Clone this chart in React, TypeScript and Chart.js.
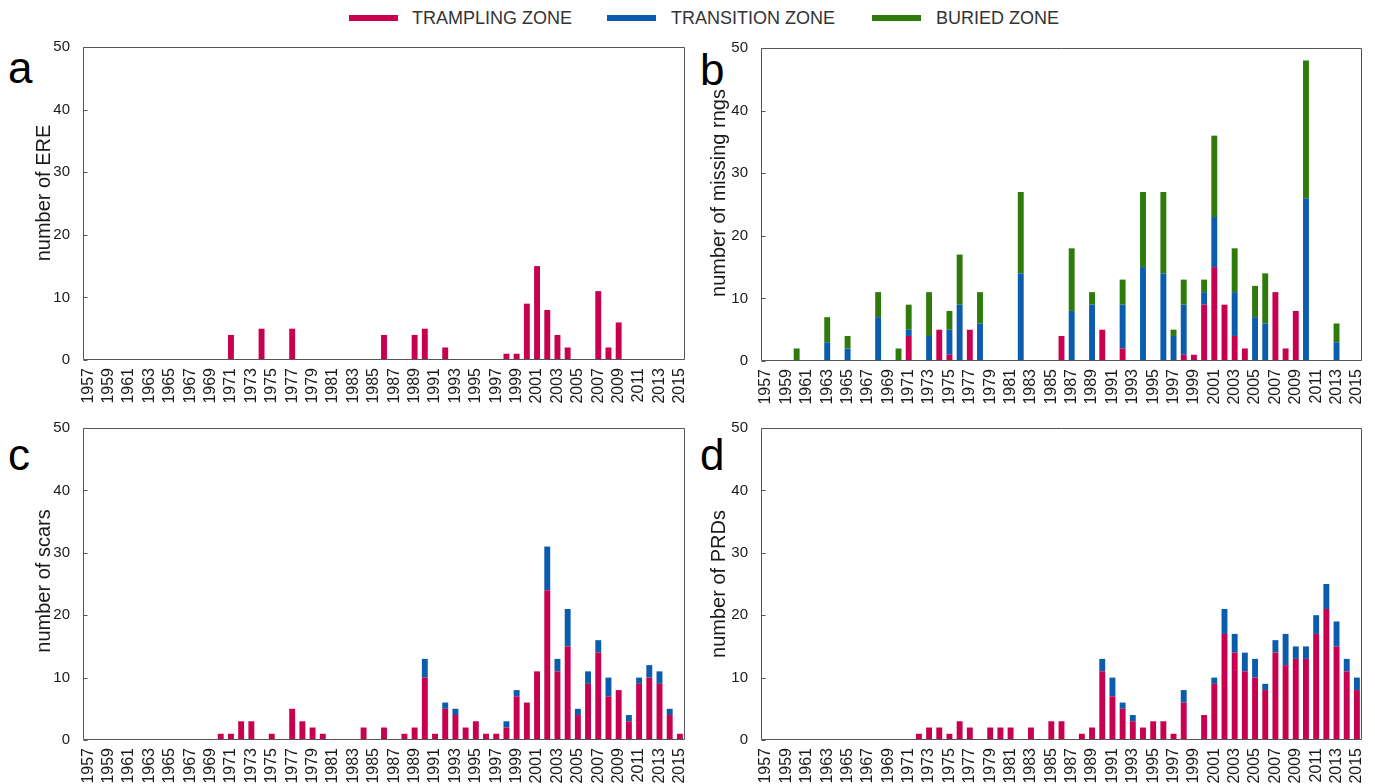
import React, { useEffect, useRef } from "react";
import { Chart, registerables } from "chart.js";

Chart.register(...registerables);

const FONT = "'Liberation Sans', Arial, Helvetica, sans-serif";
const RED = "#C8004F";
const BLUE = "#0B5CAD";
const GREEN = "#2E7A0A";

const YEARS = [
  "1957", "1958", "1959", "1960", "1961", "1962", "1963", "1964", "1965", "1966",
  "1967", "1968", "1969", "1970", "1971", "1972", "1973", "1974", "1975", "1976",
  "1977", "1978", "1979", "1980", "1981", "1982", "1983", "1984", "1985", "1986",
  "1987", "1988", "1989", "1990", "1991", "1992", "1993", "1994", "1995", "1996",
  "1997", "1998", "1999", "2000", "2001", "2002", "2003", "2004", "2005", "2006",
  "2007", "2008", "2009", "2010", "2011", "2012", "2013", "2014", "2015",
];

const Y_TICKS = [0, 10, 20, 30, 40, 50];

// Panel a: number of ERE
const ereTrampling = [
  0, 0, 0, 0, 0, 0, 0, 0, 0, 0,
  0, 0, 0, 0, 4, 0, 0, 5, 0, 0,
  5, 0, 0, 0, 0, 0, 0, 0, 0, 4,
  0, 0, 4, 5, 0, 2, 0, 0, 0, 0,
  0, 1, 1, 9, 15, 8, 4, 2, 0, 0,
  11, 2, 6, 0, 0, 0, 0, 0, 0,
];

// Panel b: number of missing rings
const ringsTrampling = [
  0, 0, 0, 0, 0, 0, 0, 0, 0, 0,
  0, 0, 0, 0, 4, 0, 0, 5, 1, 0,
  5, 0, 0, 0, 0, 0, 0, 0, 0, 4,
  0, 0, 0, 5, 0, 2, 0, 0, 0, 0,
  0, 1, 1, 9, 15, 9, 4, 2, 0, 0,
  11, 2, 8, 0, 0, 0, 0, 0, 0,
];
const ringsTransition = [
  0, 0, 0, 0, 0, 0, 3, 0, 2, 0,
  0, 7, 0, 0, 1, 0, 4, 0, 4, 9,
  0, 6, 0, 0, 0, 14, 0, 0, 0, 0,
  8, 0, 9, 0, 0, 7, 0, 15, 0, 14,
  4, 8, 0, 2, 8, 0, 7, 0, 7, 6,
  0, 0, 0, 26, 0, 0, 3, 0, 0,
];
const ringsBuried = [
  0, 0, 0, 2, 0, 0, 4, 0, 2, 0,
  0, 4, 0, 2, 4, 0, 7, 0, 3, 8,
  0, 5, 0, 0, 0, 13, 0, 0, 0, 0,
  10, 0, 2, 0, 0, 4, 0, 12, 0, 13,
  1, 4, 0, 2, 13, 0, 7, 0, 5, 8,
  0, 0, 0, 22, 0, 0, 3, 0, 0,
];

// Panel c: number of scars
const scarsTrampling = [
  0, 0, 0, 0, 0, 0, 0, 0, 0, 0,
  0, 0, 0, 1, 1, 3, 3, 0, 1, 0,
  5, 3, 2, 1, 0, 0, 0, 2, 0, 2,
  0, 1, 2, 10, 1, 5, 4, 2, 3, 1,
  1, 2, 7, 6, 11, 24, 11, 15, 4, 9,
  14, 7, 8, 3, 9, 10, 9, 4, 1,
];
const scarsTransition = [
  0, 0, 0, 0, 0, 0, 0, 0, 0, 0,
  0, 0, 0, 0, 0, 0, 0, 0, 0, 0,
  0, 0, 0, 0, 0, 0, 0, 0, 0, 0,
  0, 0, 0, 3, 0, 1, 1, 0, 0, 0,
  0, 1, 1, 0, 0, 7, 2, 6, 1, 2,
  2, 3, 0, 1, 1, 2, 2, 1, 0,
];

// Panel d: number of PRDs
const prdTrampling = [
  0, 0, 0, 0, 0, 0, 0, 0, 0, 0,
  0, 0, 0, 0, 0, 1, 2, 2, 1, 3,
  2, 0, 2, 2, 2, 0, 2, 0, 3, 3,
  0, 1, 2, 11, 7, 5, 3, 2, 3, 3,
  1, 6, 0, 4, 9, 17, 14, 11, 10, 8,
  14, 12, 13, 13, 17, 21, 15, 11, 8,
];
const prdTransition = [
  0, 0, 0, 0, 0, 0, 0, 0, 0, 0,
  0, 0, 0, 0, 0, 0, 0, 0, 0, 0,
  0, 0, 0, 0, 0, 0, 0, 0, 0, 0,
  0, 0, 0, 2, 3, 1, 1, 0, 0, 0,
  0, 2, 0, 0, 1, 4, 3, 3, 3, 1,
  2, 5, 2, 2, 3, 4, 4, 2, 2,
];

const framePlugin = {
  id: "frame",
  afterDraw(chart: any) {
    const { ctx, chartArea } = chart;
    const { left, top, right, bottom } = chartArea;
    ctx.save();
    ctx.strokeStyle = "#555";
    ctx.lineWidth = 1;
    ctx.beginPath();
    const l = Math.round(left) + 0.5;
    const r = Math.round(right) - 0.5;
    const t = Math.round(top) + 0.5;
    const b = Math.round(bottom) - 0.5;
    ctx.rect(l, t, r - l, b - t);
    const ys = chart.scales.y;
    for (const v of Y_TICKS) {
      const py = Math.round(ys.getPixelForValue(v)) + 0.5;
      ctx.moveTo(l, py);
      ctx.lineTo(l + 4, py);
    }
    ctx.stroke();
    ctx.restore();
  },
};

type DS = { label: string; data: number[]; color: string };

type PanelProps = {
  left: number;
  top: number;
  width: number;
  height: number;
  datasets: DS[];
  yAxisWidth: number;
  padTop: number;
  padRight: number;
  xAxisHeight: number;
};

function Panel(p: PanelProps) {
  const ref = useRef<HTMLCanvasElement | null>(null);
  useEffect(() => {
    if (!ref.current) return;
    const chart = new Chart(ref.current, {
      type: "bar",
      data: {
        labels: YEARS,
        datasets: p.datasets.map((d) => ({
          label: d.label,
          data: d.data,
          backgroundColor: d.color,
          borderWidth: 0,
          barPercentage: 0.58,
          categoryPercentage: 1,
        })),
      },
      options: {
        animation: false,
        responsive: false,
        maintainAspectRatio: false,
        layout: { padding: { top: p.padTop, right: p.padRight, left: 0, bottom: 0 } },
        plugins: { legend: { display: false }, tooltip: { enabled: false } },
        scales: {
          x: {
            stacked: true,
            grid: { display: false, drawTicks: false },
            border: { display: false },
            ticks: {
              autoSkip: false,
              maxRotation: 90,
              minRotation: 90,
              padding: 8,
              color: "#1a1a1a",
              font: { size: 16, family: FONT },
              callback: (_v: any, i: number) => (i % 2 === 0 ? YEARS[i] : ""),
            },
            afterFit: (s: any) => {
              s.height = p.xAxisHeight;
              s.paddingLeft = 0;
              s.paddingRight = 0;
            },
          },
          y: {
            stacked: true,
            min: 0,
            max: 50,
            grid: { display: false, drawTicks: false },
            border: { display: false },
            ticks: { stepSize: 10, padding: 13, color: "#1a1a1a", font: { size: 15, family: FONT } },
            afterFit: (s: any) => {
              s.width = p.yAxisWidth;
              s.paddingTop = 0;
              s.paddingBottom = 0;
            },
          },
        },
      } as any,
      plugins: [framePlugin],
    });
    return () => chart.destroy();
  }, []);
  return (
    <canvas
      ref={ref}
      width={p.width}
      height={p.height}
      style={{ position: "absolute", left: p.left, top: p.top, width: p.width, height: p.height }}
    />
  );
}

const LEGEND = [
  { label: "TRAMPLING ZONE", color: RED, mx: 349, tx: 412 },
  { label: "TRANSITION ZONE", color: BLUE, mx: 607, tx: 671 },
  { label: "BURIED ZONE", color: GREEN, mx: 872, tx: 936 },
];

const LETTERS = [
  { t: "a", x: 8, y: 46 },
  { t: "b", x: 700, y: 48 },
  { t: "c", x: 8, y: 433 },
  { t: "d", x: 700, y: 433 },
];

const Y_TITLES = [
  { t: "number of ERE", cx: 43, cy: 193 },
  { t: "number of missing rngs", cx: 718, cy: 193 },
  { t: "number of scars", cx: 43, cy: 581 },
  { t: "number of PRDs", cx: 718, cy: 584 },
];

export default function App() {
  return (
    <div
      style={{
        position: "absolute",
        left: 0,
        top: 0,
        width: 1375,
        height: 784,
        background: "#fff",
        overflow: "hidden",
        fontFamily: FONT,
      }}
    >
      {LEGEND.map((l) => (
        <React.Fragment key={l.label}>
          <div
            style={{ position: "absolute", left: l.mx, top: 15, width: 49, height: 6, background: l.color }}
          />
          <span
            style={{
              position: "absolute",
              left: l.tx,
              top: 9,
              fontSize: 18,
              lineHeight: "18px",
              color: "#333",
              whiteSpace: "nowrap",
            }}
          >
            {l.label}
          </span>
        </React.Fragment>
      ))}
      {LETTERS.map((l) => (
        <span
          key={l.t}
          style={{
            position: "absolute",
            left: l.x,
            top: l.y,
            fontSize: 44,
            lineHeight: "44px",
            color: "#000",
          }}
        >
          {l.t}
        </span>
      ))}
      <Panel
        left={0}
        top={40}
        width={690}
        height={370}
        datasets={[{ label: "TRAMPLING ZONE", data: ereTrampling, color: RED }]}
        yAxisWidth={83}
        padTop={7}
        padRight={5}
        xAxisHeight={50}
      />
      <Panel
        left={690}
        top={40}
        width={680}
        height={370}
        datasets={[
          { label: "TRAMPLING ZONE", data: ringsTrampling, color: RED },
          { label: "TRANSITION ZONE", data: ringsTransition, color: BLUE },
          { label: "BURIED ZONE", data: ringsBuried, color: GREEN },
        ]}
        yAxisWidth={71}
        padTop={8}
        padRight={8}
        xAxisHeight={49}
      />
      <Panel
        left={0}
        top={420}
        width={690}
        height={364}
        datasets={[
          { label: "TRAMPLING ZONE", data: scarsTrampling, color: RED },
          { label: "TRANSITION ZONE", data: scarsTransition, color: BLUE },
        ]}
        yAxisWidth={83}
        padTop={8}
        padRight={5}
        xAxisHeight={44}
      />
      <Panel
        left={690}
        top={420}
        width={680}
        height={364}
        datasets={[
          { label: "TRAMPLING ZONE", data: prdTrampling, color: RED },
          { label: "TRANSITION ZONE", data: prdTransition, color: BLUE },
        ]}
        yAxisWidth={71}
        padTop={8}
        padRight={8}
        xAxisHeight={44}
      />
      {Y_TITLES.map((y) => (
        <div
          key={y.t}
          style={{
            position: "absolute",
            left: y.cx,
            top: y.cy,
            fontSize: 20,
            lineHeight: "20px",
            color: "#1a1a1a",
            whiteSpace: "nowrap",
            transform: "translate(-50%, -50%) rotate(-90deg)",
          }}
        >
          {y.t}
        </div>
      ))}
    </div>
  );
}
